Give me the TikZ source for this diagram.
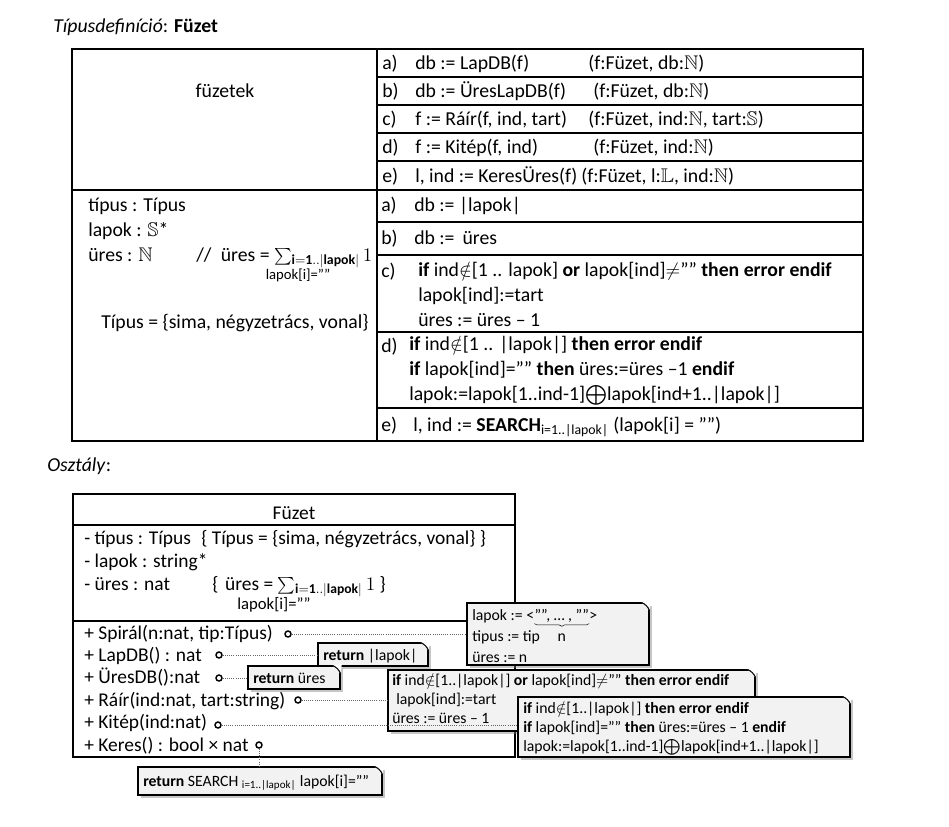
\documentclass[tikz,border=0pt]{standalone}
\usepackage{amssymb}
\usepackage{fontspec}
\setmainfont{Carlito}
\usetikzlibrary{shadows, fit, decorations.pathreplacing}

\definecolor{notegray}{RGB}{242,242,242}
\newcommand{\uressum}{{\fontsize{12.5}{12.5}\selectfont$\sum$}\textsubscript{$\mathbf{i{=}1..|lapok|}$}\,$1$}

\begin{document}
\begin{tikzpicture}[x=0.75pt, y=-0.75pt,
    cell_text/.style={anchor=base west, inner sep=0pt, align=left,
                      font=\fontsize{14.8}{18.4}\selectfont},
    member_text/.style={anchor=base west, inner sep=0pt, align=left,
                        font=\fontsize{14.6}{17.2}\selectfont},
    small_text/.style={anchor=base, inner sep=0pt, font=\fontsize{11}{13}\selectfont},
    frame/.style={line width=1.5pt},
    rule/.style={line width=0.8pt},
    note/.style={draw, line width=0.8pt, fill=notegray, inner sep=0pt,
                 drop shadow={shadow xshift=2pt, shadow yshift=-2pt, opacity=0.45}},
    note_text/.style={anchor=base west, inner sep=0pt, align=left,
                      font=\fontsize{11.8}{14.2}\selectfont},
    port/.style={circle, draw, line width=1.1pt, fill=white, inner sep=0pt, minimum size=4.5pt},
    conn/.style={densely dotted, line width=0.6pt, black!60}]

    \useasboundingbox (0,0) rectangle (949,826);

    % type definition table
    \node[cell_text] (typedef_title) at (53,32) {\textit{Típusdefiníció}: \textbf{Füzet}};

    \draw[frame] (72,49) rectangle (863,441);
    \draw[frame] (72,190) -- (863,190);
    \draw[frame] (377,49) -- (377,441);
    \foreach \y in {77,105,133,161,222,255,332,408}
        \draw[rule] (377,\y) -- (863,\y);

    \node[cell_text, anchor=base] (fuzetek) at (225,97) {füzetek};

    \foreach \lbl/\y in {a/69, b/97, c/125, d/153, e/182}
        \node[cell_text] (op_\lbl_lbl) at (382,\y) {\lbl)};
    \node[cell_text] (op_a) at (415,69) {db := LapDB(f)};
    \node[cell_text] (sig_a) at (588,69) {(f:Füzet, db:$\mathbb{N}$)};
    \node[cell_text] (op_b) at (415,97) {db := ÜresLapDB(f)};
    \node[cell_text] (sig_b) at (593,97) {(f:Füzet, db:$\mathbb{N}$)};
    \node[cell_text] (op_c) at (415,125) {f := Ráír(f, ind, tart)};
    \node[cell_text] (sig_c) at (588,125) {(f:Füzet, ind:$\mathbb{N}$, tart:$\mathbb{S}$)};
    \node[cell_text] (op_d) at (415,153) {f := Kitép(f, ind)};
    \node[cell_text] (sig_d) at (593,153) {(f:Füzet, ind:$\mathbb{N}$)};
    \node[cell_text] (op_e) at (415,182) {l, ind := KeresÜres(f)};
    \node[cell_text] (sig_e) at (581,182) {(f:Füzet, l:$\mathbb{L}$, ind:$\mathbb{N}$)};

    \node[cell_text] (repr) at (88,261) {típus : Típus\\lapok : $\mathbb{S}$*\\üres : $\mathbb{N}$};
    \node[cell_text] (inv) at (196,261) {//\hspace{7pt}üres = \uressum};
    \node[small_text] (inv_cond) at (298,279) {lapok[i]=””};
    \node[cell_text] (tipus_set) at (101,328) {Típus = \{sima, négyzetrács, vonal\}};

    \foreach \lbl/\y in {a/211, b/244, c/277, d/352, e/431}
        \node[cell_text] (impl_\lbl_lbl) at (381,\y) {\lbl)};
    \node[cell_text] (impl_a) at (414,211) {db := |lapok|};
    \node[cell_text] (impl_b) at (414,244) {db :=\hspace{6pt}üres};
    \node[cell_text] (impl_c) at (418,326) {\textbf{if} ind$\notin$[1 .. lapok] \textbf{or} lapok[ind]$\neq$”” \textbf{then error endif}\\lapok[ind]:=tart\\üres := üres – 1};
    \node[cell_text] (impl_d) at (409,400) {\textbf{if} ind$\notin$[1 .. |lapok|] \textbf{then error endif}\\\textbf{if} lapok[ind]=”” \textbf{then} üres:=üres –1 \textbf{endif}\\lapok:=lapok[1..ind-1]$\bigoplus$lapok[ind+1..|lapok|]};
    \node[cell_text] (impl_e) at (413,431) {l, ind := \textbf{SEARCH}\textsubscript{i=1..|lapok|} (lapok[i] = ””)};

    % class
    \node[cell_text] (class_title) at (47,471) {\textit{Osztály}:};

    \draw[frame] (73,494) rectangle (515,757);
    \draw[rule] (73,525) -- (515,525);
    \draw[rule] (73,621) -- (515,621);

    \node[member_text, anchor=base] (class_name) at (294,519) {Füzet};
    \node[member_text] (attrs) at (84,590) {- típus : Típus\\- lapok : string*\\- üres : nat};
    \node[member_text] (tipus_inv) at (201,544) {\{ Típus = \{sima, négyzetrács, vonal\} \}};
    \node[member_text] (ures_inv) at (212,590) {\{\hspace{5pt}üres = \uressum\ \}};
    \node[small_text, font=\fontsize{12.5}{14}\selectfont] (ures_cond) at (274,609) {lapok[i]=””};

    \node[member_text, font=\fontsize{14.6}{16.8}\selectfont] (methods) at (84,751)
        {+ Spirál(n:nat, tip:Típus)\\+ LapDB() : nat\\+ ÜresDB():nat\\+ Ráír(ind:nat, tart:string)\\+ Kitép(ind:nat)\\+ Keres() : bool × nat};

    \node[port] (spiral_port) at (288,634) {};
    \node[port] (lapdb_port) at (219,655) {};
    \node[port] (uresdb_port) at (219,678) {};
    \node[port] (rair_port) at (298,700) {};
    \node[port] (kitep_port) at (218,725) {};
    \node[port] (keres_port) at (259,745) {};

    % notes
    \node[note, fit={(467,603) (649,665)}] (spiral_note) {};
    \node[note_text] (spiral_lapok) at (472,620) {lapok := <};
    \node[note_text] (spiral_seq) at (spiral_lapok.base east) {””, … , ””};
    \node[note_text] (spiral_close) at (spiral_seq.base east) {>};
    \draw[decorate, decoration={brace, mirror, amplitude=2pt}, line width=0.4pt]
        ([yshift=-1pt]spiral_seq.south west) -- ([yshift=-1pt]spiral_seq.south east);
    \node[note_text, anchor=base] (spiral_n) at ([yshift=-16pt]spiral_seq.base) {n};
    \node[note_text, font=\fontsize{11.8}{15.5}\selectfont] (spiral_body) at (472,662)
        {tipus := tip\\üres := n};

    \node[note, fit={(318,643) (428,666)}] (lapdb_note) {};
    \node[note_text] (lapdb_body) at (323,660) {\textbf{return} |lapok|};

    \node[note, fit={(248,666) (340,689)}] (uresdb_note) {};
    \node[note_text] (uresdb_body) at (253,683) {\textbf{return} üres};

    \node[note, fit={(388,670) (755,731)}] (rair_note) {};
    \node[note_text, font=\fontsize{11.8}{13.9}\selectfont] (rair_body) at (392,723)
        {\textbf{if} ind$\notin$[1..|lapok|] \textbf{or} lapok[ind]$\neq$”” \textbf{then error endif}\\\hspace{3pt}lapok[ind]:=tart\\üres := üres – 1};

    \node[note, fit={(518,697) (850,757)}] (kitep_note) {};
    \node[note_text] (kitep_body) at (523,751)
        {\textbf{if} ind$\notin$[1..|lapok|] \textbf{then error endif}\\\textbf{if} lapok[ind]=”” \textbf{then} üres:=üres – 1 \textbf{endif}\\lapok:=lapok[1..ind-1]$\bigoplus$lapok[ind+1..|lapok|]};

    \node[note, fit={(138,767) (382,795)}] (keres_note) {};
    \node[note_text] (keres_body) at (143,786) {\textbf{return} SEARCH \textsubscript{i=1..|lapok|} lapok[i]=””};

    % folded corners
    \foreach \n in {spiral_note, lapdb_note, uresdb_note, rair_note, kitep_note, keres_note} {
        \fill[white] ([xshift=-6pt]\n.north east) -- ([xshift=1pt,yshift=1pt]\n.north east)
            -- ([yshift=-6pt]\n.north east) -- cycle;
        \draw[line width=0.8pt] ([xshift=-6pt]\n.north east) to[bend left=20] ([yshift=-6pt]\n.north east);
    }

    % connectors
    \draw[conn] (spiral_port) -- (spiral_port -| spiral_note.west);
    \draw[conn] (lapdb_port) -- (lapdb_port -| lapdb_note.west);
    \draw[conn] (uresdb_port) -- (uresdb_port -| uresdb_note.west);
    \draw[conn] (rair_port) -- (rair_port -| rair_note.west);
    \draw[conn] (kitep_port) -- (kitep_port -| kitep_note.west);
    \draw[conn] (keres_port) -- (keres_port |- keres_note.north);

\end{tikzpicture}
\end{document}
